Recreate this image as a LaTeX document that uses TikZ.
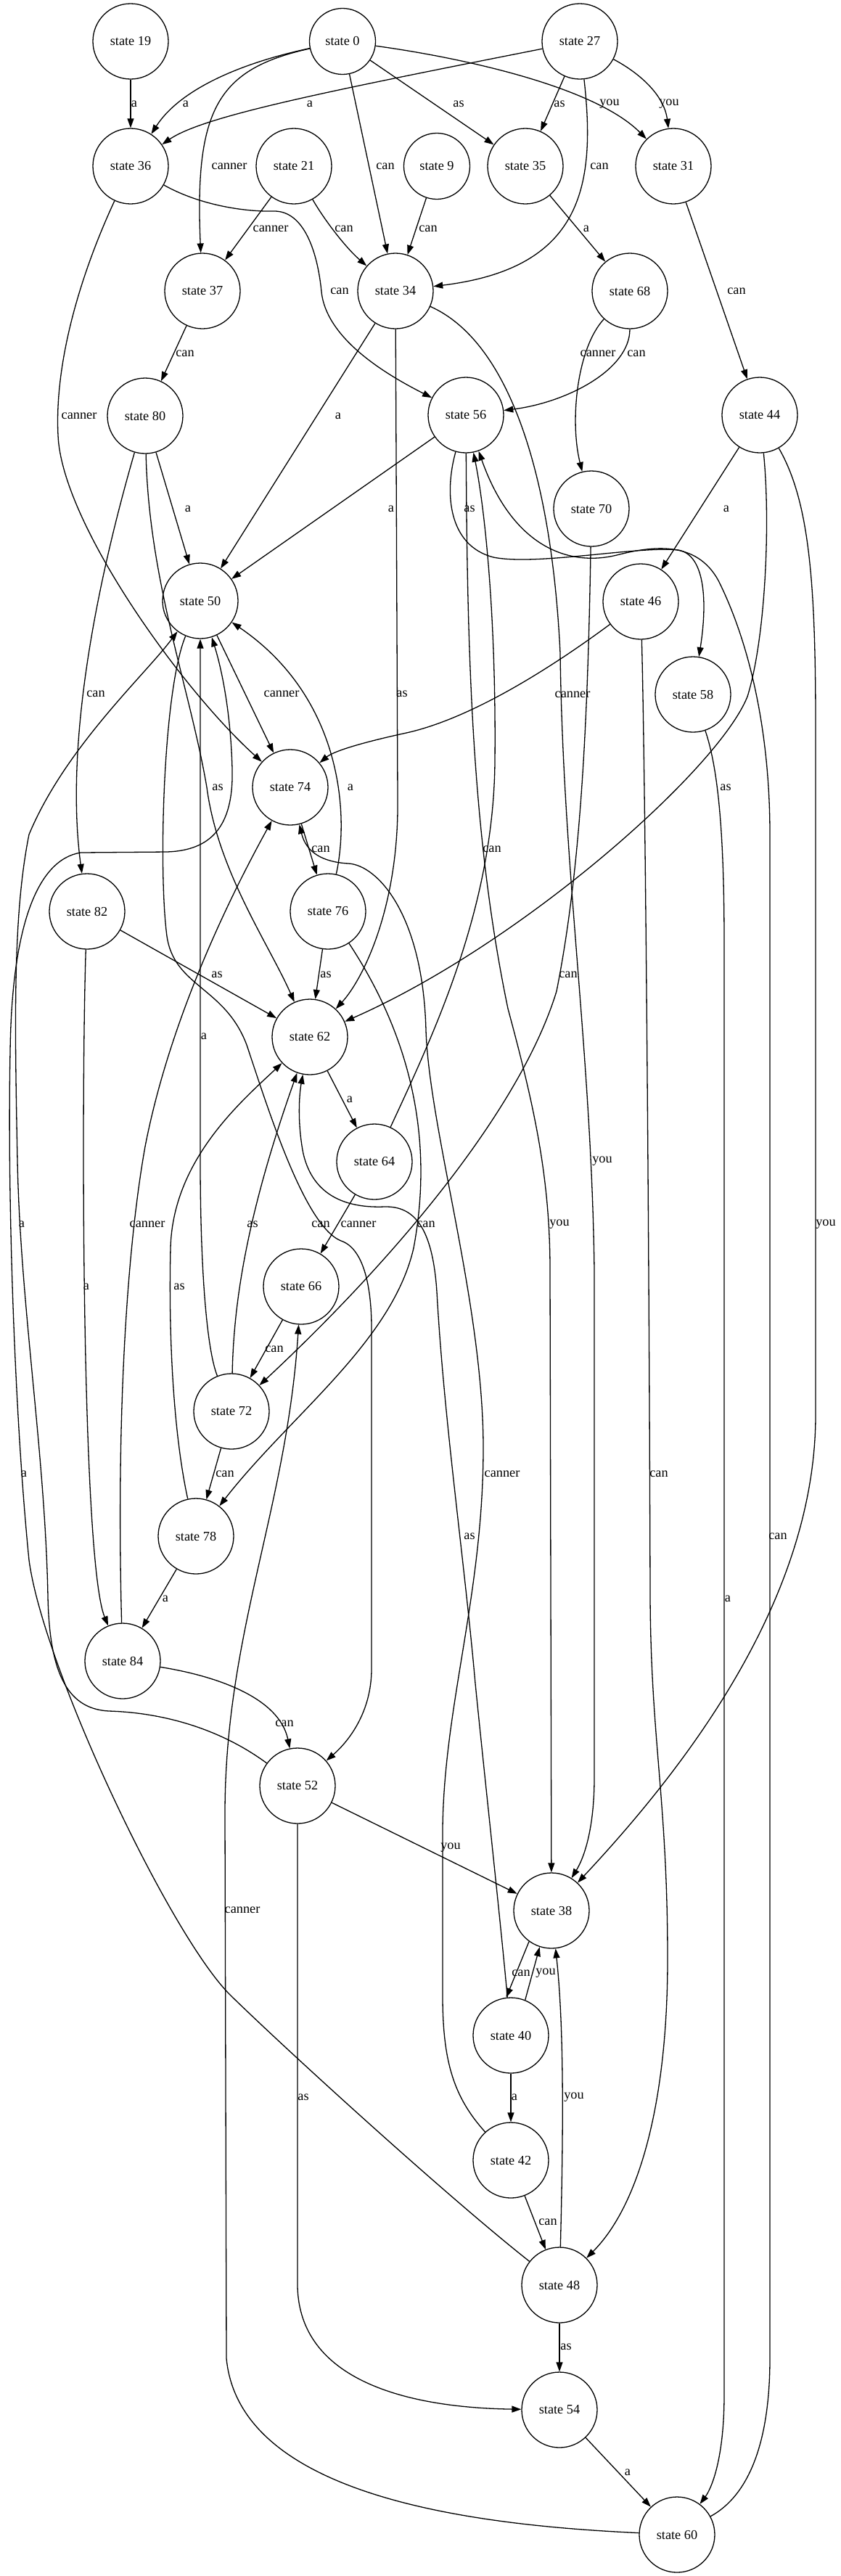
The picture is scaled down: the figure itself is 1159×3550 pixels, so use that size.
\documentclass[tikz,border=0pt]{standalone}
\usepackage{fontspec}
\setmainfont{Liberation Serif}
\usepackage{tikz}
\usetikzlibrary{arrows.meta}
\newcommand{\statefont}{\fontsize{10.4}{12}\selectfont}

\begin{document}
\begin{tikzpicture}[
        x=0.2mm, y=-0.2mm,
        % state nodes: plain circles
        statenode/.style={
            circle,
            draw,
            line width=0.26mm,
            minimum size=20.8mm,
            inner sep=0pt,
            font=\statefont
        },
        % one-digit states are a bit smaller
        smallstate/.style={statenode, minimum size=18.2mm},
        % transition labels
        translabel/.style={inner sep=0pt, font=\statefont},
        % transitions
        trans/.style={
            line width=0.26mm,
            -{Triangle[length=2.6mm, width=1.8mm]}
        }
    ]

        \fill[white] (0,0) rectangle (1159,3550);

        % --- 1. STATES ---
        \node[statenode] (s19) at (180,57) {state 19};
        \node[smallstate] (s0) at (472,57) {state 0};
        \node[statenode] (s27) at (799,57) {state 27};
        \node[statenode] (s36) at (180,229) {state 36};
        \node[statenode] (s21) at (405,229) {state 21};
        \node[smallstate] (s9) at (602,229) {state 9};
        \node[statenode] (s35) at (724,229) {state 35};
        \node[statenode] (s31) at (928,229) {state 31};
        \node[statenode] (s37) at (279,401) {state 37};
        \node[statenode] (s34) at (545,401) {state 34};
        \node[statenode] (s68) at (868,401) {state 68};
        \node[statenode] (s80) at (200,573) {state 80};
        \node[statenode] (s56) at (642,572) {state 56};
        \node[statenode] (s44) at (1047,572) {state 44};
        \node[statenode] (s70) at (815,701) {state 70};
        \node[statenode] (s50) at (276,828) {state 50};
        \node[statenode] (s46) at (883,829) {state 46};
        \node[statenode] (s58) at (955,957) {state 58};
        \node[statenode] (s74) at (400,1085) {state 74};
        \node[statenode] (s82) at (120,1256) {state 82};
        \node[statenode] (s76) at (452,1256) {state 76};
        \node[statenode] (s62) at (427,1429) {state 62};
        \node[statenode] (s64) at (516,1601) {state 64};
        \node[statenode] (s66) at (415,1773) {state 66};
        \node[statenode] (s72) at (319,1945) {state 72};
        \node[statenode] (s78) at (270,2117) {state 78};
        \node[statenode] (s84) at (169,2289) {state 84};
        \node[statenode] (s52) at (410,2461) {state 52};
        \node[statenode] (s38) at (760,2633) {state 38};
        \node[statenode] (s40) at (704,2805) {state 40};
        \node[statenode] (s42) at (704,2977) {state 42};
        \node[statenode] (s48) at (771,3149) {state 48};
        \node[statenode] (s54) at (771,3321) {state 54};
        \node[statenode] (s60) at (933,3493) {state 60};

        % --- 2. TRANSITIONS ---
        % top part
        \draw[trans] (s19) -- (s36);
        \draw[trans] (s0) .. controls (340,85) and (250,120) .. (s36);
        \draw[trans] (s27) .. controls (450,126) and (280,160) .. (s36);
        \draw[trans] (s0) .. controls (300,95) and (268,150) .. (s37);
        \draw[trans] (s0) -- (s34);
        \draw[trans] (s0) -- (s35);
        \draw[trans] (s0) .. controls (640,80) and (820,120) .. (s31);
        \draw[trans] (s27) -- (s35);
        \draw[trans] (s27) .. controls (880,100) and (915,130) .. (s31);
        \draw[trans] (s27) .. controls (822,260) and (800,370) .. (s34);
        \draw[trans] (s21) -- (s37);
        \draw[trans] (s21) .. controls (445,300) and (475,340) .. (s34);
        \draw[trans] (s9) -- (s34);
        \draw[trans] (s35) -- (s68);
        \draw[trans] (s31) -- (s44);
        \draw[trans] (s36) .. controls (270,280) and (330,292) .. (377,291)
            .. controls (420,290) and (438,350) .. (443,402)
            .. controls (450,470) and (540,520) .. (s56);
        \draw[trans] (s36) .. controls (110,380) and (75,500) .. (80,600)
            .. controls (85,720) and (250,950) .. (s74);
        \draw[trans] (s37) -- (s80);
        \draw[trans] (s34) -- (s50);
        \draw[trans] (s34) -- (548,1100) .. controls (550,1250) and (500,1350) .. (s62);
        \draw[trans] (s34) .. controls (700,470) and (760,650) .. (772,900)
            .. controls (776,1200) and (815,1450) .. (819,1750) -- (819,2450)
            .. controls (819,2520) and (805,2560) .. (s38);
        \draw[trans] (s68) .. controls (795,480) and (785,580) .. (s70);
        \draw[trans] (s68) .. controls (868,510) and (780,555) .. (s56);

        % middle part
        \draw[trans] (s80) -- (s50);
        \draw[trans] (s80) .. controls (120,850) and (92,1050) .. (s82);
        \draw[trans] (s80) .. controls (205,800) and (262,950) .. (285,1085)
            .. controls (300,1200) and (370,1300) .. (s62);
        \draw[trans] (s56) -- (s50);
        \draw[trans] (s56) .. controls (612,680) and (618,752) .. (680,768)
            .. controls (740,780) and (880,752) .. (935,758)
            .. controls (972,765) and (975,830) .. (s58);
        \draw[trans] (s56) .. controls (644,900) and (650,1150) .. (700,1390)
            .. controls (735,1520) and (758,1620) .. (758,1750) -- (s38);
        \draw[trans] (s44) -- (s46);
        \draw[trans] (s44) .. controls (1062,720) and (1055,880) .. (1030,960)
            .. controls (990,1060) and (720,1300) .. (s62);
        \draw[trans] (s44) .. controls (1115,690) and (1124,800) .. (1124,1000) -- (1124,1950)
            .. controls (1124,2200) and (950,2430) .. (s38);
        \draw[trans] (s50) -- (s74);
        \draw[trans] (s50) .. controls (225,950) and (218,1200) .. (230,1290)
            .. controls (240,1360) and (310,1360) .. (340,1440)
            .. controls (370,1530) and (420,1690) .. (470,1710)
            .. controls (500,1720) and (512,1770) .. (512,1830) -- (512,2300)
            .. controls (512,2360) and (480,2400) .. (s52);
        \draw[trans] (s46) .. controls (760,920) and (650,990) .. (560,1010)
            .. controls (500,1023) and (460,1035) .. (s74);
        \draw[trans] (s46) .. controls (890,1100) and (895,1800) .. (896,2200)
            .. controls (897,2400) and (920,2480) .. (920,2700)
            .. controls (920,2900) and (880,3040) .. (s48);
        \draw[trans] (s58) .. controls (990,1060) and (998,1150) .. (998,1300) -- (998,3300)
            .. controls (998,3390) and (980,3430) .. (s60);
        \draw[trans] (s74) -- (s76);
        \draw[trans] (s76) .. controls (482,1120) and (470,960) .. (s50);
        \draw[trans] (s76) -- (s62);
        \draw[trans] (s76) .. controls (560,1420) and (600,1560) .. (570,1720)
            .. controls (540,1850) and (400,1950) .. (s78);
        \draw[trans] (s82) -- (s62);
        \draw[trans] (s82) .. controls (112,1500) and (112,2150) .. (s84);
        \draw[trans] (s62) -- (s64);
        \draw[trans] (s64) .. controls (600,1420) and (680,1250) .. (682,1050)
            .. controls (684,850) and (668,700) .. (s56);
        \draw[trans] (s64) -- (s66);
        \draw[trans] (s66) -- (s72);
        \draw[trans] (s70) .. controls (810,1000) and (800,1200) .. (767,1366)
            .. controls (720,1520) and (560,1720) .. (s72);
        \draw[trans] (s72) .. controls (285,1860) and (276,1750) .. (276,1600) -- (s50);
        \draw[trans] (s72) .. controls (322,1800) and (338,1680) .. (s62);
        \draw[trans] (s72) -- (s78);
        \draw[trans] (s78) .. controls (240,1980) and (232,1850) .. (235,1720)
            .. controls (238,1600) and (330,1520) .. (s62);
        \draw[trans] (s78) -- (s84);
        \draw[trans] (s84) .. controls (160,1950) and (175,1720) .. (200,1580)
            .. controls (235,1400) and (320,1230) .. (s74);
        \draw[trans] (s84) .. controls (300,2310) and (385,2340) .. (s52);

        % bottom part
        \draw[trans] (s52) .. controls (300,2380) and (220,2360) .. (150,2358)
            .. controls (90,2355) and (68,2300) .. (66,2200)
            .. controls (62,2000) and (28,1800) .. (24,1600)
            .. controls (20,1400) and (18,1260) .. (40,1150)
            .. controls (90,1030) and (200,930) .. (s50);
        \draw[trans] (s52) -- (s38);
        \draw[trans] (s52) -- (410,3150) .. controls (412,3280) and (560,3318) .. (s54);
        \draw[trans] (s38.234) -- (s40.97);
        \draw[trans] (s40.68) -- (s38.252);
        \draw[trans] (s40) -- (s42);
        \draw[trans] (s40) .. controls (690,2650) and (668,2450) .. (655,2320)
            .. controls (640,2150) and (612,1960) .. (602,1780)
            .. controls (596,1690) and (570,1662) .. (530,1663)
            .. controls (480,1665) and (432,1650) .. (418,1590)
            .. controls (410,1550) and (412,1510) .. (s62);
        \draw[trans] (s42) .. controls (625,2890) and (610,2840) .. (610,2750) -- (610,2520)
            .. controls (612,2350) and (665,2200) .. (666,2000)
            .. controls (667,1800) and (592,1560) .. (587,1420)
            .. controls (583,1260) and (520,1192) .. (480,1190)
            .. controls (445,1188) and (422,1175) .. (s74);
        \draw[trans] (s42) -- (s48);
        \draw[trans] (s48) .. controls (620,3030) and (400,2830) .. (318,2750)
            .. controls (236,2670) and (60,2300) .. (40,2150)
            .. controls (20,1950) and (10,1650) .. (14,1450)
            .. controls (16,1280) and (50,1185) .. (111,1175) -- (230,1174)
            .. controls (290,1172) and (322,1140) .. (320,1060)
            .. controls (318,980) and (305,920) .. (s50);
        \draw[trans] (s48) .. controls (776,2950) and (778,2800) .. (s38);
        \draw[trans] (s48) -- (s54);
        \draw[trans] (s54) -- (s60);
        \draw[trans] (s60) .. controls (1030,3440) and (1061,3370) .. (1061,3250) -- (1061,1150)
            .. controls (1061,1000) and (1030,880) .. (990,800)
            .. controls (960,745) and (900,752) .. (850,765)
            .. controls (780,782) and (705,750) .. (s56);
        \draw[trans] (s60) .. controls (650,3480) and (330,3440) .. (312,3250) -- (310,2500)
            .. controls (310,2250) and (395,2080) .. (s66);

        % --- 3. LABELS ---
        \foreach \lx/\ly/\lt [count=\i] in {
            185/143/a, 256/143/a, 427/143/a, 632/143/as, 771/143/as, 840/143/you, 922/143/you,
            316/229/canner, 531/229/can, 826/229/can,
            373/315/canner, 474/315/can, 590/315/can, 808/315/a,
            468/401/can, 1015/401/can,
            255/487/can, 824/487/canner, 877/487/can,
            109/573/canner, 466/573/a,
            259/701/a, 539/701/a, 647/701/as, 1001/701/a,
            132/956/can, 388/956/canner, 554/956/as, 789/957/canner,
            300/1085/as, 483/1085/a, 1000/1085/as,
            442/1170/can, 678/1170/can,
            299/1343/as, 449/1343/as, 783/1343/can,
            281/1428/a, 482/1515/a, 830/1600/you,
            30/1687/a, 203/1687/canner, 348/1687/as, 442/1687/can, 494/1687/canner,
            587/1687/can, 771/1687/you, 1138/1687/you,
            119/1773/a, 247/1773/as, 378/1859/can,
            33/2031/a, 310/2031/can, 692/2031/canner, 908/2031/can,
            647/2117/as, 1072/2117/can, 228/2203/a, 1003/2203/a,
            392/2375/can, 621/2546/you, 334/2632/canner,
            718/2719/can, 752/2719/you,
            418/2890/as, 709/2890/a, 791/2890/you,
            755/3062/can, 780/3234/as, 865/3407/a}
            \node[translabel] (lab\i) at (\lx,\ly) {\lt};

    \end{tikzpicture}
\end{document}
